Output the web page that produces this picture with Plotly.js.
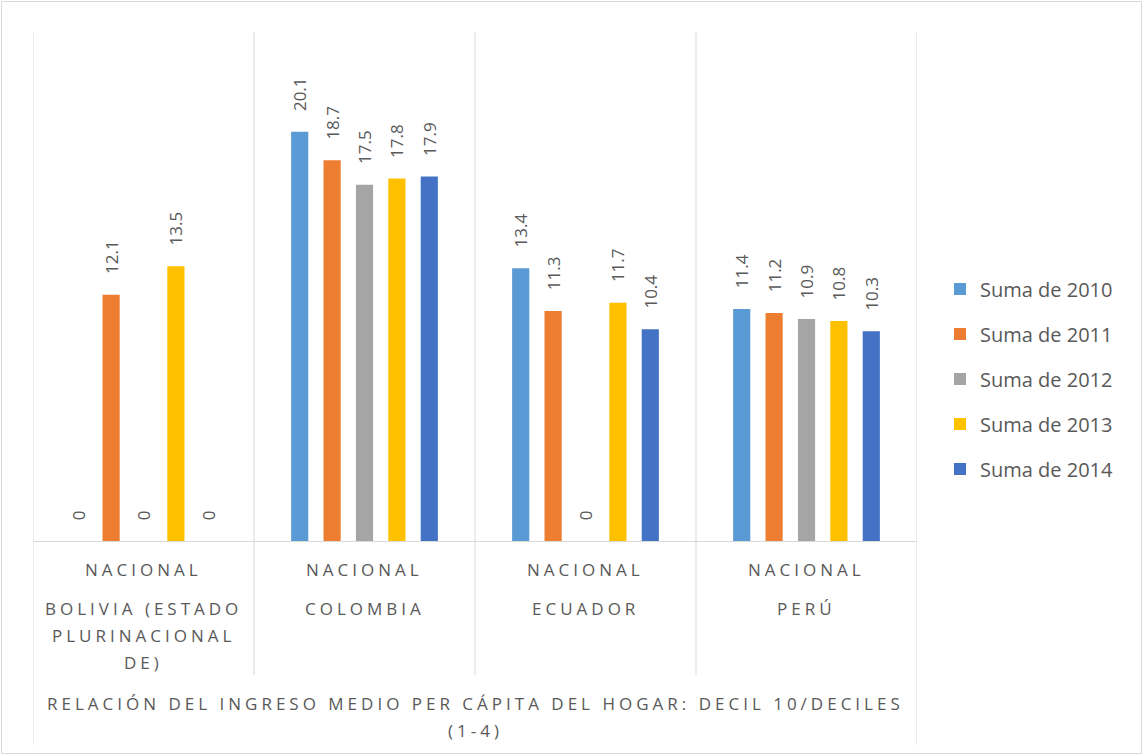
<!DOCTYPE html>
<html>
<head>
<meta charset="utf-8">
<script src="https://cdn.plot.ly/plotly-3.0.1.min.js"></script>
<style>
  html, body { margin: 0; padding: 0; background: #fff; }
  #chart { width: 1144px; height: 756px; }
  .spaced .annotation-text { letter-spacing: 4px; }
</style>
</head>
<body>
<div id="chart"></div>
<script>
// ---- data ----
const categories = ['Bolivia (Estado Plurinacional de)', 'Colombia', 'Ecuador', 'Perú'];
const innerLabels = ['NACIONAL', 'NACIONAL', 'NACIONAL', 'NACIONAL'];
const countryLabels = [['BOLIVIA (ESTADO', 'PLURINACIONAL', 'DE)'], ['COLOMBIA'], ['ECUADOR'], ['PERÚ']];
const axisTitleLines = ['RELACIÓN DEL INGRESO MEDIO PER CÁPITA DEL HOGAR: DECIL 10/DECILES', '(1-4)'];
const seriesNames = ['Suma de 2010', 'Suma de 2011', 'Suma de 2012', 'Suma de 2013', 'Suma de 2014'];
const s2010 = [0, 20.1, 13.4, 11.4];
const s2011 = [12.1, 18.7, 11.3, 11.2];
const s2012 = [0, 17.5, 0, 10.9];
const s2013 = [13.5, 17.8, 11.7, 10.8];
const s2014 = [0, 17.9, 10.4, 10.3];
const seriesValues = [s2010, s2011, s2012, s2013, s2014];
const colors = ['#5B9BD5', '#ED7D31', '#A5A5A5', '#FFC000', '#4472C4'];

// ---- geometry helpers (pixel layout of the reference) ----
const W = 1144, H = 756;
const L = 33, R = 917, T = 32, B = 541;
const py = p => (B - p) / (B - T);   // pixel y -> paper y
const px = p => (p - L) / (R - L);   // pixel x -> paper x
const textColor = '#595959';
const lineColor = '#D9D9D9';
const font = 'Open Sans, Liberation Sans, sans-serif';
const labelPad = '\u00a0\u00a0\u00a0\u00a0'; // gap between bar end and its label

const traces = seriesNames.map((name, i) => ({
  type: 'bar',
  name: name,
  x: categories,
  y: seriesValues[i],
  marker: { color: colors[i] },
  texttemplate: labelPad + '%{y}',
  textposition: 'outside',
  textangle: -90,
  constraintext: 'none',
  cliponaxis: false,
  textfont: { family: font, size: 17, color: textColor },
  legendgroup: 'g' + i,
  hoverinfo: 'x+y+name'
}));

const annFont = { family: font, size: 17, color: textColor };
const annotations = [];
categories.forEach((c, i) => {
  annotations.push({
    xref: 'x', yref: 'paper', x: c, y: py(569), yanchor: 'middle', xanchor: 'center',
    text: innerLabels[i], showarrow: false, font: annFont
  });
  countryLabels[i].forEach((line, j) => {
    annotations.push({
      xref: 'x', yref: 'paper', x: c, y: py(608 + 27 * j), yanchor: 'middle', xanchor: 'center',
      text: line, showarrow: false, font: annFont
    });
  });
});
axisTitleLines.forEach((line, j) => {
  annotations.push({
    xref: 'paper', yref: 'paper', x: px(475), y: py(703 + 27 * j), yanchor: 'middle', xanchor: 'center',
    text: line, showarrow: false, font: annFont
  });
});

const shapes = [];
for (let k = 0; k <= categories.length; k++) {
  const outer = (k === 0 || k === categories.length);
  shapes.push({
    type: 'line', xref: 'x', yref: 'paper',
    x0: k - 0.5, x1: k - 0.5, y0: 1, y1: outer ? py(745) : py(675),
    line: { color: lineColor, width: 1 }
  });
}
// outer chart border
shapes.push({
  type: 'rect', xref: 'paper', yref: 'paper',
  x0: px(1.5), x1: px(1141.5), y0: py(753.5), y1: py(1.5),
  line: { color: lineColor, width: 1 }, fillcolor: 'rgba(0,0,0,0)'
});

const layout = {
  width: W, height: H,
  margin: { l: L, r: W - R, t: T, b: H - B, pad: 0 },
  paper_bgcolor: '#ffffff',
  plot_bgcolor: '#ffffff',
  barmode: 'group',
  bargap: 0.267,
  bargroupgap: 0.47,
  showlegend: true,
  legend: {
    x: px(940), y: py(379), xanchor: 'left', yanchor: 'middle',
    traceorder: 'grouped', tracegroupgap: 16,
    font: { family: font, size: 20, color: textColor },
    itemwidth: 30
  },
  xaxis: {
    type: 'category',
    range: [-0.5, 3.5],
    showticklabels: false,
    showgrid: false,
    zeroline: false,
    showline: true,
    linecolor: lineColor,
    linewidth: 1,
    ticks: '',
    fixedrange: true
  },
  yaxis: {
    range: [0, 25],
    showticklabels: false,
    showgrid: false,
    zeroline: false,
    showline: false,
    ticks: '',
    fixedrange: true
  },
  annotations: annotations,
  shapes: shapes
};

Plotly.newPlot('chart', traces, layout, { displayModeBar: false, staticPlot: true }).then(() => {
  document.getElementById('chart').classList.add('spaced');
});
</script>
</body>
</html>
